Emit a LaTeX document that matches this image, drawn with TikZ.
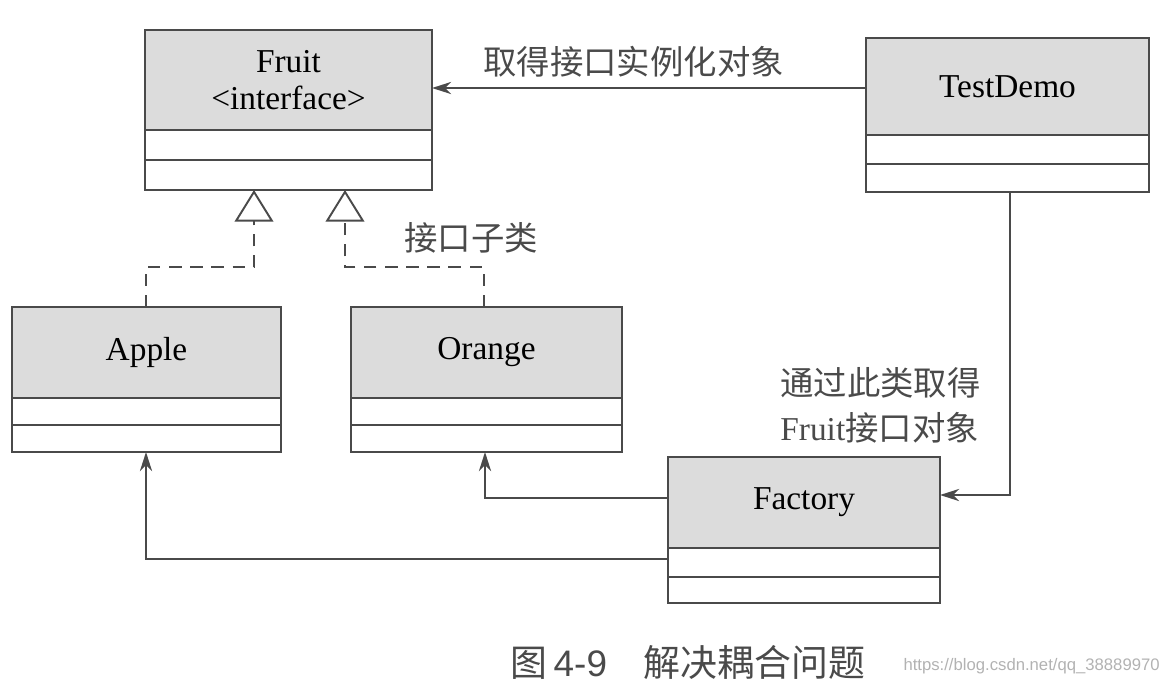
\documentclass[tikz,border=0pt]{standalone}
\usepackage{fontspec}
\setmainfont{Liberation Serif}
\newfontfamily\cjk{Noto Sans CJK SC}
\newfontfamily\capfont{Liberation Sans}
\usetikzlibrary{arrows.meta}
\definecolor{ln}{HTML}{4A4A4A}
\definecolor{hd}{HTML}{DCDCDC}
\begin{document}
\begin{tikzpicture}[x=0.02cm,y=-0.02cm,
  hdr/.style={draw=ln, line width=1.1pt, fill=hd, inner sep=0pt, outer sep=0pt, anchor=north west, align=center,
    font=\fontsize{19}{23}\selectfont},
  comp/.style={draw=ln, line width=1.1pt, fill=white, inner sep=0pt, outer sep=0pt, anchor=north west},
  conn/.style={draw=ln, line width=1.1pt, -{Stealth[length=11pt,width=7pt]}},
  real/.style={draw=ln, line width=1.1pt, dashed, dash pattern=on 7pt off 5pt,
    -{Triangle[open, length=18pt, width=22pt, fill=white]}},
  lbl/.style={text=ln, font=\cjk\fontsize{19}{26}\selectfont, inner sep=0pt, align=left}]
\useasboundingbox (0,0) rectangle (1169,694);
% Fruit
\node[hdr, minimum width=287*0.02cm, minimum height=100*0.02cm] (fruit) at (145,30) {Fruit\\[-2pt]<interface>};
\node[comp, minimum width=287*0.02cm, minimum height=30*0.02cm] (fruit1) at (fruit.south west) {};
\node[comp, minimum width=287*0.02cm, minimum height=30*0.02cm] (fruit2) at (fruit1.south west) {};
% TestDemo
\node[hdr, minimum width=283*0.02cm, minimum height=97*0.02cm] (test) at (866,38) {TestDemo};
\node[comp, minimum width=283*0.02cm, minimum height=29*0.02cm] (test1) at (test.south west) {};
\node[comp, minimum width=283*0.02cm, minimum height=28*0.02cm] (test2) at (test1.south west) {};
% Apple
\node[hdr, minimum width=269*0.02cm, minimum height=91*0.02cm] (apple) at (12,307) {Apple};
\node[comp, minimum width=269*0.02cm, minimum height=27*0.02cm] (apple1) at (apple.south west) {};
\node[comp, minimum width=269*0.02cm, minimum height=27*0.02cm] (apple2) at (apple1.south west) {};
% Orange
\node[hdr, minimum width=271*0.02cm, minimum height=91*0.02cm] (orange) at (351,307) {Orange};
\node[comp, minimum width=271*0.02cm, minimum height=27*0.02cm] (orange1) at (orange.south west) {};
\node[comp, minimum width=271*0.02cm, minimum height=27*0.02cm] (orange2) at (orange1.south west) {};
% Factory
\node[hdr, minimum width=272*0.02cm, minimum height=91*0.02cm] (fac) at (668,457) {Factory};
\node[comp, minimum width=272*0.02cm, minimum height=29*0.02cm] (fac1) at (fac.south west) {};
\node[comp, minimum width=272*0.02cm, minimum height=26*0.02cm] (fac2) at (fac1.south west) {};
% connectors
\draw[conn] (test.west |- 0,88) -- (fruit.east |- 0,88);
\draw[conn] (test2.south -| 1010,0) -- (1010,495) -- (fac.east |- 0,495);
\draw[conn] (fac.west |- 0,498) -- (485,498) -- (orange2.south -| 485,0);
\draw[conn] (fac1.west |- 0,559) -- (146,559) -- (apple2.south -| 146,0);
\draw[real] (apple.north -| 146,0) -- (146,267) -- (254,267) -- (fruit2.south -| 254,0);
\draw[real] (orange.north -| 484,0) -- (484,267) -- (345,267) -- (fruit2.south -| 345,0);
% labels
\node[lbl, anchor=west] (l1) at (483,62) {取得接口实例化对象};
\node[lbl, anchor=west] (l2) at (404,238) {接口子类};
\node[lbl, anchor=west] (l3) at (780,383) {通过此类取得};
\node[lbl, anchor=west] (l4) at (780,428) {\rmfamily Fruit\cjk 接口对象};
\node[text=ln, font=\cjk\fontsize{21}{24}\selectfont, inner sep=0pt] (cap) at (688,662) {图\,{\capfont 4-9}\quad 解决耦合问题};
\node[text=black!30, font=\capfont\fontsize{9.5}{11}\selectfont, inner sep=0pt, anchor=east] (wm) at (1160,666) {https://blog.csdn.net/qq\_38889970};
\end{tikzpicture}
\end{document}
